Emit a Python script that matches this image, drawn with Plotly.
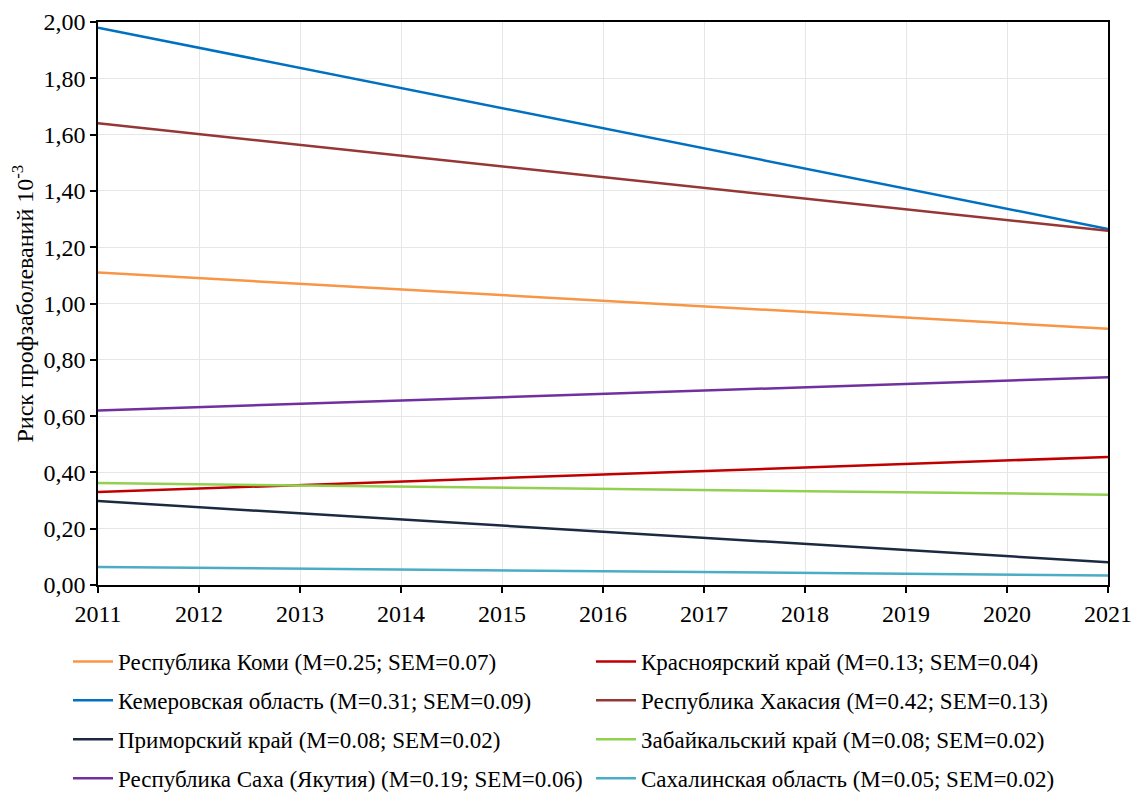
import plotly.graph_objects as go

# Trend endpoints, 2011 and 2021 (risk per 1000)
years = [2011, 2021]
names = [
    "Республика Коми (M=0.25; SEM=0.07)",
    "Красноярский край (M=0.13; SEM=0.04)",
    "Кемеровская область (M=0.31; SEM=0.09)",
    "Республика Хакасия (M=0.42; SEM=0.13)",
    "Приморский край (M=0.08; SEM=0.02)",
    "Забайкальский край (M=0.08; SEM=0.02)",
    "Республика Саха (Якутия) (M=0.19; SEM=0.06)",
    "Сахалинская область (M=0.05; SEM=0.02)",
]
komi = [1.11, 0.91]
krasnoyarsk = [0.33, 0.455]
kemerovo = [1.98, 1.265]
khakasia = [1.64, 1.258]
primorsky = [0.298, 0.081]
zabaikal = [0.362, 0.321]
sakha = [0.62, 0.738]
sakhalin = [0.064, 0.034]
series = [komi, krasnoyarsk, kemerovo, khakasia, primorsky, zabaikal, sakha, sakhalin]
colors = ["#F79646", "#C00000", "#0070C0", "#953735",
          "#1B2A41", "#92D050", "#7030A0", "#4BACC6"]
y_title = "Риск профзаболеваний 10<sup>-3</sup>"

FONT = "Liberation Serif"
W, H = 1141, 796
L, R, T, B = 98, 33, 22, 211

fig = go.Figure()
for i, (name, vals, col) in enumerate(zip(names, series, colors)):
    # even entries go to the left legend column, odd ones to the right
    leg = "legend" if i % 2 == 0 else "legend2"
    fig.add_trace(go.Scatter(
        x=years, y=vals, mode="lines", name=name,
        line=dict(color=col, width=2.5),
        legend=leg, legendgroup=f"g{i}",
    ))

legend_common = dict(
    orientation="v", xref="container", yref="container",
    xanchor="left", yanchor="top", y=1 - 640 / H,
    font=dict(family=FONT, size=23, color="#000"),
    itemwidth=40, bgcolor="rgba(0,0,0,0)", traceorder="grouped",
    tracegroupgap=6,
)

axis_common = dict(
    showline=True, linecolor="#000", linewidth=1.5, mirror=True,
    ticks="outside", ticklen=6, tickcolor="#000", tickwidth=1.5,
    showgrid=True, gridcolor="#E6E6E6", gridwidth=1,
    tickfont=dict(family=FONT, size=24, color="#000"),
    zeroline=False,
)

fig.update_layout(
    width=W, height=H,
    margin=dict(l=L, r=R, t=T, b=B, autoexpand=False),
    paper_bgcolor="white", plot_bgcolor="white",
    separators=", ",
    showlegend=True,
    xaxis=dict(axis_common, range=[2011, 2021], dtick=1, tick0=2011),
    yaxis=dict(axis_common, range=[0, 2.0], dtick=0.2, tickformat=".2f"),
    legend=dict(legend_common, x=68 / W),
    legend2=dict(legend_common, x=591 / W),
)

# vertical axis title
fig.add_annotation(
    text=y_title, textangle=-90, showarrow=False,
    xref="paper", yref="paper",
    x=(22 - L) / (W - L - R), y=0.5,
    xanchor="center", yanchor="middle",
    font=dict(family=FONT, size=24, color="#000"),
)

fig.write_html("out.html")
